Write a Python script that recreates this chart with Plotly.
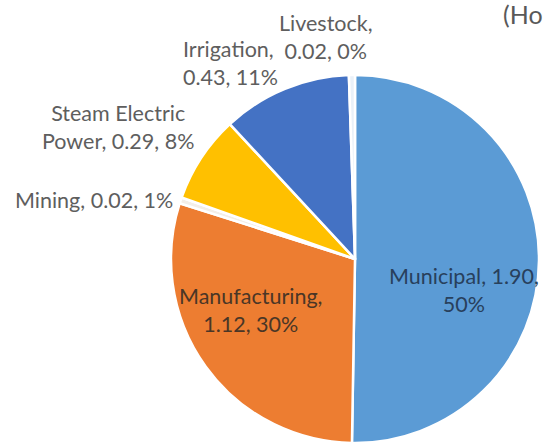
import plotly.graph_objects as go

categories = ["Municipal", "Manufacturing", "Mining", "Steam Electric Power", "Irrigation", "Livestock"]
values = [1.90, 1.12, 0.02, 0.29, 0.43, 0.02]
pct_labels = ["50%", "30%", "1%", "8%", "11%", "0%"]
colors = ["#5B9BD5", "#ED7D31", "#F3EEE8", "#FFC000", "#4472C4", "#EAF1F8"]
break_after = [2, 1, None, 2, 1, 1]
title_fragment = "(Ho"

W, H = 546, 446
cx, cy, r = 355, 259, 184

# label placement (pixels): x, y, xanchor, align, color
label_pos = [
    (464, 290, "center", "center", "#28405C"),
    (250, 310, "center", "center", "#4A3626"),
    (94, 200, "center", "center", "#5E5E5E"),
    (118, 127, "center", "center", "#5E5E5E"),
    (181, 63, "left", "left", "#5E5E5E"),
    (326, 37, "center", "center", "#5E5E5E"),
]

fig = go.Figure(go.Pie(
    labels=categories,
    values=values,
    sort=False,
    direction="clockwise",
    rotation=0,
    textinfo="none",
    hoverinfo="label+value+percent",
    marker=dict(colors=colors, line=dict(color="white", width=2.5)),
    domain=dict(x=[(cx - r) / W, (cx + r) / W], y=[(H - cy - r) / H, (H - cy + r) / H]),
    showlegend=False,
))

annotations = []
for c, v, p, b, pos in zip(categories, values, pct_labels, break_after, label_pos):
    words = f"{c}, {v:.2f}, {p}".split(" ")
    if b is None:
        txt = " ".join(words)
    else:
        txt = " ".join(words[:b]) + "<br>" + " ".join(words[b:])
    x, y, xa, al, col = pos
    annotations.append(dict(
        x=x / W, y=1 - y / H, xref="paper", yref="paper",
        text=txt, showarrow=False, xanchor=xa, yanchor="middle", align=al,
        font=dict(family="Lato", size=21.5, color=col),
    ))

annotations.append(dict(
    x=501 / W, y=1 - 14 / H, xref="paper", yref="paper", text=title_fragment,
    showarrow=False, xanchor="left", yanchor="middle",
    font=dict(family="Lato", size=25, color="#595959"),
))

fig.update_layout(
    width=W, height=H,
    margin=dict(l=0, r=0, t=0, b=0),
    paper_bgcolor="white",
    plot_bgcolor="white",
    annotations=annotations,
)

fig.write_html("out.html")
